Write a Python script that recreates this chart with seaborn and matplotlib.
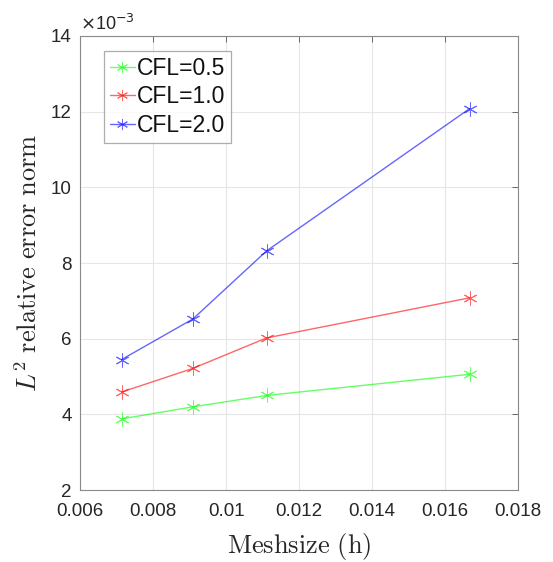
import matplotlib
matplotlib.use("Agg")
import matplotlib.pyplot as plt
import seaborn as sns
import pandas as pd

# Data (error values in units of 1e-3)
meshsize = [0.00714, 0.00909, 0.01111, 0.01667]
cfl_05 = [3.88, 4.20, 4.50, 5.06]
cfl_10 = [4.59, 5.215, 6.02, 7.08]
cfl_20 = [5.45, 6.52, 8.32, 12.08]
labels = ["CFL=0.5", "CFL=1.0", "CFL=2.0"]
xticks = [0.006, 0.008, 0.010, 0.012, 0.014, 0.016, 0.018]
xticklabels = ["0.006", "0.008", "0.01", "0.012", "0.014", "0.016", "0.018"]
yticks = [2, 4, 6, 8, 10, 12, 14]

rows = []
for lab, vals in zip(labels, [cfl_05, cfl_10, cfl_20]):
    for x, y in zip(meshsize, vals):
        rows.append({"h": x, "err": y, "CFL": lab})
df = pd.DataFrame(rows)

sns.set_theme(style="white")
plt.rcParams["font.family"] = ["Liberation Sans", "DejaVu Sans"]
plt.rcParams["mathtext.fontset"] = "cm"

fig = plt.figure(figsize=(5.53, 5.62), dpi=100)
ax = fig.add_axes([0.1447, 0.128, 0.7923, 0.808])

palette = {"CFL=0.5": "#00ff00", "CFL=1.0": "#ff0000", "CFL=2.0": "#0000ff"}
sns.lineplot(data=df, x="h", y="err", hue="CFL", palette=palette, ax=ax,
             marker=(6, 2, 0), markersize=10, markeredgewidth=0.7,
             linewidth=1.0, alpha=0.6, legend=True)
for ln in ax.lines:
    ln.set_markeredgecolor(ln.get_color())

ax.set_xlim(0.006, 0.018)
ax.set_ylim(2, 14)
ax.set_xticks(xticks)
ax.set_xticklabels(xticklabels)
ax.set_yticks(yticks)
ax.tick_params(axis="both", direction="in", length=4, width=0.6, color="#555555",
               labelsize=13.5, labelcolor="#262626", top=True, right=True)
ax.tick_params(axis="x", pad=9)
ax.tick_params(axis="y", pad=6)
ax.grid(True, color="#e6e6e6", linewidth=0.8)
for s in ax.spines.values():
    s.set_color("#8a8a8a")
    s.set_linewidth(0.8)

ax.set_xlabel(r"$\mathrm{Meshsize\ (h)}$", fontsize=19, color="#262626", labelpad=8)
ax.set_ylabel(r"$L^2\ \mathrm{relative\ error\ norm}$", fontsize=19, color="#262626", labelpad=6)

ax.text(0.0, 1.005, r"$\times$10$^{-3}$", transform=ax.transAxes, fontsize=13,
        color="#262626", ha="left", va="bottom", family="Liberation Sans",
        math_fontfamily="dejavusans")

leg = ax.legend(loc="upper left", bbox_to_anchor=(0.055, 0.967), fontsize=16.5,
                frameon=True, fancybox=False, edgecolor="#999999",
                handlelength=1.1, handletextpad=0.1, borderpad=0.25,
                labelspacing=0.25, borderaxespad=0)
leg.get_frame().set_linewidth(0.9)
for t in leg.get_texts():
    t.set_color("#111111")
for h in leg.legend_handles:
    try:
        h.set_markeredgecolor(h.get_color())
        h.set_markersize(8)
    except Exception:
        pass

fig.savefig("out.png", dpi=100)
